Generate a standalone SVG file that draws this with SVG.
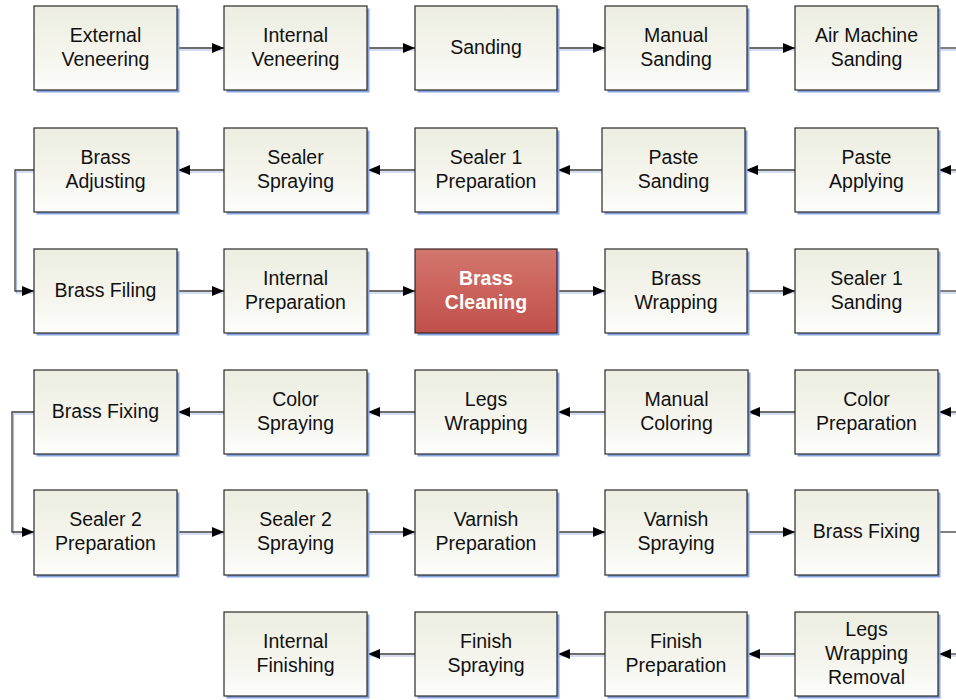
<svg xmlns="http://www.w3.org/2000/svg" width="956" height="700" viewBox="0 0 956 700">
  <defs>
    <linearGradient id="boxFill" x1="0" y1="0" x2="0" y2="1">
      <stop offset="0" stop-color="#edeee1"/>
      <stop offset="0.25" stop-color="#f0f1e6"/>
      <stop offset="0.5" stop-color="#f4f4ec"/>
      <stop offset="0.75" stop-color="#f8f8f3"/>
      <stop offset="1" stop-color="#fdfdfb"/>
    </linearGradient>
    <linearGradient id="hotFill" x1="0" y1="0" x2="0" y2="1">
      <stop offset="0" stop-color="#d3776f"/>
      <stop offset="0.5" stop-color="#ca625b"/>
      <stop offset="1" stop-color="#c0504b"/>
    </linearGradient>
    <marker id="arrow" viewBox="0 0 12 10" refX="12" refY="5" markerWidth="12" markerHeight="10" markerUnits="userSpaceOnUse" orient="auto">
      <path d="M0,0 L12,5 L0,10 Z" fill="#000"/>
    </marker>
  </defs>
  <style>
    .shadow { fill: #86a3e0; }
    .box { fill: url(#boxFill); stroke: #2a2a2a; stroke-width: 1.2; }
    .hot { fill: url(#hotFill); stroke: #3a2626; stroke-width: 1.2; }
    .label { font-family: "Liberation Sans", Arial, sans-serif; font-size: 19.5px; fill: #111; text-anchor: middle; }
    .hotlabel { font-family: "Liberation Sans", Arial, sans-serif; font-size: 19.5px; font-weight: bold; fill: #fff; text-anchor: middle; }
    .wire { fill: none; stroke: #3c3c3c; stroke-width: 1.3; }
    .wireshadow { fill: none; stroke: #a9bde8; stroke-width: 1.2; }
  </style>

  <!-- connectors -->
  <g id="connectors">
    <g transform="translate(1.5,2)">
      <path class="wireshadow" d="M177,48 H224 M367,48 H415 M557,48 H605 M747,48 H795 M938,48 H956"/>
      <path class="wireshadow" d="M956,170 H938 M795,170 H745 M602,170 H557 M415,170 H367 M224,170 H177 M34,170 H15 V291 H34"/>
      <path class="wireshadow" d="M177,291 H224 M367,291 H415 M557,291 H605 M747,291 H795 M938,291 H956"/>
      <path class="wireshadow" d="M956,412 H938 M795,412 H747 M605,412 H557 M415,412 H367 M224,412 H177 M34,412 H12 V532 H34"/>
      <path class="wireshadow" d="M177,532 H224 M367,532 H415 M557,532 H605 M747,532 H795"/>
      <path class="wireshadow" d="M956,654 H938 M795,654 H747 M605,654 H557 M415,654 H367"/>
    </g>
    <!-- row 1 -->
    <path class="wire" d="M177,48 H224" marker-end="url(#arrow)"/>
    <path class="wire" d="M367,48 H415" marker-end="url(#arrow)"/>
    <path class="wire" d="M557,48 H605" marker-end="url(#arrow)"/>
    <path class="wire" d="M747,48 H795" marker-end="url(#arrow)"/>
    <path class="wire" d="M938,48 H956"/>
    <!-- row 2 -->
    <path class="wire" d="M956,170 H939" marker-end="url(#arrow)"/>
    <path class="wire" d="M795,170 H746" marker-end="url(#arrow)"/>
    <path class="wire" d="M602,170 H558" marker-end="url(#arrow)"/>
    <path class="wire" d="M415,170 H368" marker-end="url(#arrow)"/>
    <path class="wire" d="M224,170 H178" marker-end="url(#arrow)"/>
    <path class="wire" d="M34,170 H15 V291 H34" marker-end="url(#arrow)"/>
    <!-- row 3 -->
    <path class="wire" d="M177,291 H224" marker-end="url(#arrow)"/>
    <path class="wire" d="M367,291 H415" marker-end="url(#arrow)"/>
    <path class="wire" d="M557,291 H605" marker-end="url(#arrow)"/>
    <path class="wire" d="M747,291 H795" marker-end="url(#arrow)"/>
    <path class="wire" d="M938,291 H956"/>
    <!-- row 4 -->
    <path class="wire" d="M956,412 H939" marker-end="url(#arrow)"/>
    <path class="wire" d="M795,412 H748" marker-end="url(#arrow)"/>
    <path class="wire" d="M605,412 H558" marker-end="url(#arrow)"/>
    <path class="wire" d="M415,412 H368" marker-end="url(#arrow)"/>
    <path class="wire" d="M224,412 H178" marker-end="url(#arrow)"/>
    <path class="wire" d="M34,412 H12 V532 H34" marker-end="url(#arrow)"/>
    <!-- row 5 -->
    <path class="wire" d="M177,532 H224" marker-end="url(#arrow)"/>
    <path class="wire" d="M367,532 H415" marker-end="url(#arrow)"/>
    <path class="wire" d="M557,532 H605" marker-end="url(#arrow)"/>
    <path class="wire" d="M747,532 H795" marker-end="url(#arrow)"/>
    <path class="wire" d="M938,532 H956"/>
    <!-- row 6 -->
    <path class="wire" d="M956,654 H939" marker-end="url(#arrow)"/>
    <path class="wire" d="M795,654 H748" marker-end="url(#arrow)"/>
    <path class="wire" d="M605,654 H558" marker-end="url(#arrow)"/>
    <path class="wire" d="M415,654 H368" marker-end="url(#arrow)"/>
  </g>

  <!-- row 1 -->
  <g id="external-veneering">
    <rect class="shadow" x="36.5" y="8.5" width="143" height="84"/>
    <rect class="box" x="34" y="6" width="143" height="84"/>
    <text class="label" x="105.5" y="42">External</text>
    <text class="label" x="105.5" y="66">Veneering</text>
  </g>
  <g id="internal-veneering">
    <rect class="shadow" x="226.5" y="8.5" width="143" height="84"/>
    <rect class="box" x="224" y="6" width="143" height="84"/>
    <text class="label" x="295.5" y="42">Internal</text>
    <text class="label" x="295.5" y="66">Veneering</text>
  </g>
  <g id="sanding">
    <rect class="shadow" x="417.5" y="8.5" width="142" height="84"/>
    <rect class="box" x="415" y="6" width="142" height="84"/>
    <text class="label" x="486" y="54">Sanding</text>
  </g>
  <g id="manual-sanding">
    <rect class="shadow" x="607.5" y="8.5" width="142" height="84"/>
    <rect class="box" x="605" y="6" width="142" height="84"/>
    <text class="label" x="676" y="42">Manual</text>
    <text class="label" x="676" y="66">Sanding</text>
  </g>
  <g id="air-machine-sanding">
    <rect class="shadow" x="797.5" y="8.5" width="143" height="84"/>
    <rect class="box" x="795" y="6" width="143" height="84"/>
    <text class="label" x="866.5" y="42">Air Machine</text>
    <text class="label" x="866.5" y="66">Sanding</text>
  </g>

  <!-- row 2 -->
  <g id="brass-adjusting">
    <rect class="shadow" x="36.5" y="130.5" width="143" height="84"/>
    <rect class="box" x="34" y="128" width="143" height="84"/>
    <text class="label" x="105.5" y="164">Brass</text>
    <text class="label" x="105.5" y="188">Adjusting</text>
  </g>
  <g id="sealer-spraying">
    <rect class="shadow" x="226.5" y="130.5" width="143" height="84"/>
    <rect class="box" x="224" y="128" width="143" height="84"/>
    <text class="label" x="295.5" y="164">Sealer</text>
    <text class="label" x="295.5" y="188">Spraying</text>
  </g>
  <g id="sealer1-preparation">
    <rect class="shadow" x="417.5" y="130.5" width="142" height="84"/>
    <rect class="box" x="415" y="128" width="142" height="84"/>
    <text class="label" x="486" y="164">Sealer 1</text>
    <text class="label" x="486" y="188">Preparation</text>
  </g>
  <g id="paste-sanding">
    <rect class="shadow" x="604.5" y="130.5" width="143" height="84"/>
    <rect class="box" x="602" y="128" width="143" height="84"/>
    <text class="label" x="673.5" y="164">Paste</text>
    <text class="label" x="673.5" y="188">Sanding</text>
  </g>
  <g id="paste-applying">
    <rect class="shadow" x="797.5" y="130.5" width="143" height="84"/>
    <rect class="box" x="795" y="128" width="143" height="84"/>
    <text class="label" x="866.5" y="164">Paste</text>
    <text class="label" x="866.5" y="188">Applying</text>
  </g>

  <!-- row 3 -->
  <g id="brass-filing">
    <rect class="shadow" x="36.5" y="251.5" width="143" height="84"/>
    <rect class="box" x="34" y="249" width="143" height="84"/>
    <text class="label" x="105.5" y="297">Brass Filing</text>
  </g>
  <g id="internal-preparation">
    <rect class="shadow" x="226.5" y="251.5" width="143" height="84"/>
    <rect class="box" x="224" y="249" width="143" height="84"/>
    <text class="label" x="295.5" y="285">Internal</text>
    <text class="label" x="295.5" y="309">Preparation</text>
  </g>
  <g id="brass-cleaning">
    <rect class="shadow" x="417.5" y="251.5" width="142" height="84"/>
    <rect class="hot" x="415" y="249" width="142" height="84"/>
    <text class="hotlabel" x="486" y="285">Brass</text>
    <text class="hotlabel" x="486" y="309">Cleaning</text>
  </g>
  <g id="brass-wrapping">
    <rect class="shadow" x="607.5" y="251.5" width="142" height="84"/>
    <rect class="box" x="605" y="249" width="142" height="84"/>
    <text class="label" x="676" y="285">Brass</text>
    <text class="label" x="676" y="309">Wrapping</text>
  </g>
  <g id="sealer1-sanding">
    <rect class="shadow" x="797.5" y="251.5" width="143" height="84"/>
    <rect class="box" x="795" y="249" width="143" height="84"/>
    <text class="label" x="866.5" y="285">Sealer 1</text>
    <text class="label" x="866.5" y="309">Sanding</text>
  </g>

  <!-- row 4 -->
  <g id="brass-fixing-1">
    <rect class="shadow" x="36.5" y="372.5" width="143" height="84"/>
    <rect class="box" x="34" y="370" width="143" height="84"/>
    <text class="label" x="105.5" y="418">Brass Fixing</text>
  </g>
  <g id="color-spraying">
    <rect class="shadow" x="226.5" y="372.5" width="143" height="84"/>
    <rect class="box" x="224" y="370" width="143" height="84"/>
    <text class="label" x="295.5" y="406">Color</text>
    <text class="label" x="295.5" y="430">Spraying</text>
  </g>
  <g id="legs-wrapping">
    <rect class="shadow" x="417.5" y="372.5" width="142" height="84"/>
    <rect class="box" x="415" y="370" width="142" height="84"/>
    <text class="label" x="486" y="406">Legs</text>
    <text class="label" x="486" y="430">Wrapping</text>
  </g>
  <g id="manual-coloring">
    <rect class="shadow" x="607.5" y="372.5" width="143" height="84"/>
    <rect class="box" x="605" y="370" width="143" height="84"/>
    <text class="label" x="676.5" y="406">Manual</text>
    <text class="label" x="676.5" y="430">Coloring</text>
  </g>
  <g id="color-preparation">
    <rect class="shadow" x="797.5" y="372.5" width="143" height="84"/>
    <rect class="box" x="795" y="370" width="143" height="84"/>
    <text class="label" x="866.5" y="406">Color</text>
    <text class="label" x="866.5" y="430">Preparation</text>
  </g>

  <!-- row 5 -->
  <g id="sealer2-preparation">
    <rect class="shadow" x="36.5" y="492.5" width="143" height="85"/>
    <rect class="box" x="34" y="490" width="143" height="85"/>
    <text class="label" x="105.5" y="526">Sealer 2</text>
    <text class="label" x="105.5" y="550">Preparation</text>
  </g>
  <g id="sealer2-spraying">
    <rect class="shadow" x="226.5" y="492.5" width="143" height="85"/>
    <rect class="box" x="224" y="490" width="143" height="85"/>
    <text class="label" x="295.5" y="526">Sealer 2</text>
    <text class="label" x="295.5" y="550">Spraying</text>
  </g>
  <g id="varnish-preparation">
    <rect class="shadow" x="417.5" y="492.5" width="142" height="85"/>
    <rect class="box" x="415" y="490" width="142" height="85"/>
    <text class="label" x="486" y="526">Varnish</text>
    <text class="label" x="486" y="550">Preparation</text>
  </g>
  <g id="varnish-spraying">
    <rect class="shadow" x="607.5" y="492.5" width="142" height="85"/>
    <rect class="box" x="605" y="490" width="142" height="85"/>
    <text class="label" x="676" y="526">Varnish</text>
    <text class="label" x="676" y="550">Spraying</text>
  </g>
  <g id="brass-fixing-2">
    <rect class="shadow" x="797.5" y="492.5" width="143" height="85"/>
    <rect class="box" x="795" y="490" width="143" height="85"/>
    <text class="label" x="866.5" y="538">Brass Fixing</text>
  </g>

  <!-- row 6 -->
  <g id="internal-finishing">
    <rect class="shadow" x="226.5" y="614.5" width="143" height="84"/>
    <rect class="box" x="224" y="612" width="143" height="84"/>
    <text class="label" x="295.5" y="648">Internal</text>
    <text class="label" x="295.5" y="672">Finishing</text>
  </g>
  <g id="finish-spraying">
    <rect class="shadow" x="417.5" y="614.5" width="142" height="84"/>
    <rect class="box" x="415" y="612" width="142" height="84"/>
    <text class="label" x="486" y="648">Finish</text>
    <text class="label" x="486" y="672">Spraying</text>
  </g>
  <g id="finish-preparation">
    <rect class="shadow" x="607.5" y="614.5" width="142" height="84"/>
    <rect class="box" x="605" y="612" width="142" height="84"/>
    <text class="label" x="676" y="648">Finish</text>
    <text class="label" x="676" y="672">Preparation</text>
  </g>
  <g id="legs-wrapping-removal">
    <rect class="shadow" x="797.5" y="614.5" width="143" height="84"/>
    <rect class="box" x="795" y="612" width="143" height="84"/>
    <text class="label" x="866.5" y="636">Legs</text>
    <text class="label" x="866.5" y="660">Wrapping</text>
    <text class="label" x="866.5" y="684">Removal</text>
  </g>
</svg>
